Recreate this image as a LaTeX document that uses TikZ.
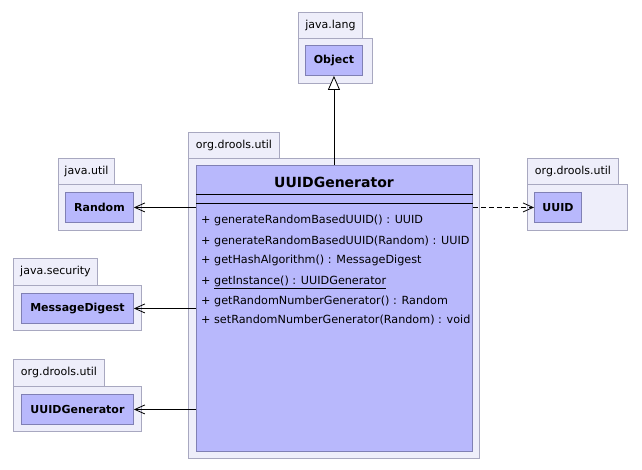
\documentclass[tikz,border=0pt]{standalone}
\usepackage{fontspec}
\setmainfont{DejaVu Sans}
\usetikzlibrary{arrows.meta}
\definecolor{pkgfill}{HTML}{EEEEFA}
\definecolor{pkgline}{HTML}{A8A8C0}
\definecolor{clsfill}{HTML}{B8B8FC}
\definecolor{clsline}{HTML}{8080B4}
\tikzset{
  pkgbox/.style={draw=pkgline, fill=pkgfill, line width=0.9pt, inner sep=0pt, anchor=north west},
  pkgtab/.style={pkgbox, font=\fontsize{11}{12}\selectfont},
  clsbox/.style={draw=clsline, fill=clsfill, line width=0.9pt, inner sep=0pt, anchor=north west, font=\bfseries\fontsize{11}{12}\selectfont},
  meth/.style={anchor=base west, inner sep=0pt, font=\fontsize{11.2}{12}\selectfont},
  dep/.style={draw=black, line width=0.8pt, -{Straight Barb[length=10pt,width=9pt,line width=0.8pt]}},
  inh/.style={draw=black, line width=0.8pt, -{Triangle[open,fill=white,length=14pt,width=12pt,line width=0.8pt]}},
}
\begin{document}
\begin{tikzpicture}[x=1pt,y=-1pt]
\useasboundingbox (0,0) rectangle (642,470);
% java.lang / Object
\node[pkgtab, minimum width=64, minimum height=26] (tobj) at (298,12) {java.lang};
\node[pkgbox, minimum width=74, minimum height=45] (pobj) at (298,38) {};
\node[clsbox, minimum width=57, minimum height=30] (obj) at (305,45) {Object};
% main package
\node[pkgtab, minimum width=91, minimum height=26] (tmain) at (188,132) {org.drools.util};
\node[pkgbox, minimum width=291, minimum height=300] (pmain) at (188,158) {};
\node[clsbox, minimum width=276, minimum height=286] (main) at (196,165) {};
\node[font=\bfseries\fontsize{14}{16}\selectfont, inner sep=0pt] (title) at (334,182) {UUIDGenerator};
\draw[line width=0.8pt] ([yshift=-29pt]main.north west) coordinate (s1a) -- (s1a -| main.east);
\draw[line width=0.8pt] ([yshift=-38pt]main.north west) coordinate (s2a) -- (s2a -| main.east);
\node[meth] (m1) at (201,224) {+ generateRandomBasedUUID() : UUID};
\node[meth] (m2) at (201,244) {+ generateRandomBasedUUID(Random) : UUID};
\node[meth] (m3) at (201,264) {+ getHashAlgorithm() : MessageDigest};
\node[meth] (m4) at (201,284) {+ \underline{getInstance() : UUIDGenerator}};
\node[meth] (m5) at (201,304) {+ getRandomNumberGenerator() : Random};
\node[meth] (m6) at (201,323) {+ setRandomNumberGenerator(Random) : void};
% UUID
\node[pkgtab, minimum width=91, minimum height=26] (tuuid) at (527,158) {org.drools.util};
\node[pkgbox, minimum width=100, minimum height=46] (puuid) at (527,184) {};
\node[clsbox, minimum width=47, minimum height=30] (uuid) at (534,192) {UUID};
% Random
\node[pkgtab, minimum width=56, minimum height=26] (trnd) at (58,158) {java.util};
\node[pkgbox, minimum width=83, minimum height=46] (prnd) at (58,184) {};
\node[clsbox, minimum width=68, minimum height=30] (rnd) at (65,192) {Random};
% MessageDigest
\node[pkgtab, minimum width=84, minimum height=27] (tmd) at (13,258) {java.security};
\node[pkgbox, minimum width=128, minimum height=45] (pmd) at (13,285) {};
\node[clsbox, minimum width=112, minimum height=30] (md) at (21,293) {MessageDigest};
% UUIDGenerator (self)
\node[pkgtab, minimum width=91, minimum height=27] (tgen) at (13,359) {org.drools.util};
\node[pkgbox, minimum width=128, minimum height=45] (pgen) at (13,386) {};
\node[clsbox, minimum width=112, minimum height=30] (gen) at (21,394) {UUIDGenerator};
% connectors
\draw[inh] (obj.south |- main.north) -- (obj.south);
\draw[dep] (main.west |- rnd.east) -- (rnd.east);
\draw[dep] (main.west |- md.east) -- (md.east);
\draw[dep] (main.west |- gen.east) -- (gen.east);
\draw[dep, dash pattern=on 5pt off 3pt] (main.east |- uuid.west) -- (uuid.west);
\end{tikzpicture}
\end{document}
